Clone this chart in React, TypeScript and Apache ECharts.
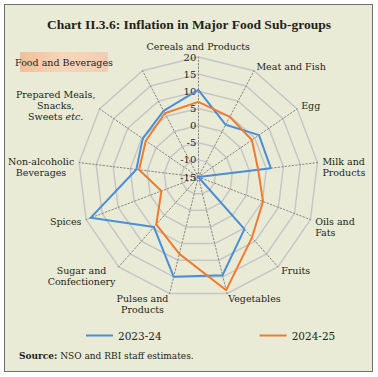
import React, { useEffect, useRef } from "react";
import * as echarts from "echarts";

// Clockwise from top
const categories = [
  "Cereals and Products",
  "Meat and Fish",
  "Egg",
  "Milk and Products",
  "Oils and Fats",
  "Fruits",
  "Vegetables",
  "Pulses and Products",
  "Sugar and Confectionery",
  "Spices",
  "Non-alcoholic Beverages",
  "Prepared Meals, Snacks, Sweets etc.",
  "Food and Beverages",
];
const displayNames = [
  "{c|Cereals and Products}",
  "{l|Meat and Fish}",
  "{l|Egg}",
  "\n{l|Milk and}\n{l|Products}",
  "\n{l|Oils and}\n{l|Fats}",
  "{l|Fruits}",
  "{l|Vegetables}",
  "\n{c|Pulses and}\n{c|Products}",
  "\n{c|Sugar and}\n{c|Confectionery}",
  "{c|Spices}",
  "\n{c|Non-alcoholic}\n{c|Beverages}",
  "{c|Prepared Meals,}\n{c|Snacks,}\n{c|Sweets }{ci|etc.}",
  "",
];
const series2324 = [10.4, 2.2, 6.5, 6.3, -15, 5.3, 14.5, 15.0, 4.5, 18.6, 3.2, 4.7, 6.8];
const series2425 = [6.9, 4.8, 4.0, 2.6, 5.2, 8.6, 19.0, 8.1, 3.5, -3.5, 2.4, 3.6, 6.0];
const seriesNames = ["2023-24", "2024-25"];
const axisMin = -15;
const axisMax = 20;

const FONT = "'DejaVu Serif', 'Liberation Serif', serif";
const TXT = "#231f20";

export default function App() {
  const ref = useRef<HTMLDivElement>(null);
  useEffect(() => {
    if (!ref.current) return;
    const chart = echarts.init(ref.current, null, { renderer: "svg" });
    // ECharts radar runs counter-clockwise; reorder to get clockwise layout
    const order = [0, ...categories.map((_, i) => i).slice(1).reverse()];
    const indicator = order.map((i) => ({
      name: categories[i],
      min: axisMin,
      max: axisMax,
      ...(i === 0
        ? {
            axisLabel: {
              show: true,
              fontFamily: FONT,
              fontSize: 10,
              color: TXT,
              margin: 2,
            },
          }
        : {}),
    }));
    const nameMap: Record<string, string> = {};
    categories.forEach((c, i) => (nameMap[c] = displayNames[i]));
    const richBase = { fontFamily: FONT, fontSize: 9.5, color: TXT, lineHeight: 11 };
    const option: any = {
      animation: false,
      title: [
        {
          text: "Chart II.3.6: Inflation in Major Food Sub-groups",
          left: "center",
          top: 12,
          textStyle: { fontFamily: "'Liberation Serif', serif", fontWeight: "bold", fontSize: 13.5, color: TXT },
        },
        {
          text: "{b|Source:} {n|NSO and RBI staff estimates.}",
          left: 14,
          top: 346,
          textStyle: {
            fontWeight: "normal",
            fontFamily: FONT,
            fontSize: 9,
            color: TXT,
            rich: {
              b: { fontFamily: FONT, fontWeight: "bold", fontSize: 9, color: TXT },
              n: { fontFamily: FONT, fontWeight: "normal", fontSize: 9, color: TXT },
            },
          },
        },
      ],
      legend: {
        data: seriesNames,
        left: 81,
        top: 325,
        itemGap: 98,
        itemWidth: 27,
        itemHeight: 2,
        icon: "rect",
        textStyle: { fontFamily: FONT, fontSize: 10.5, color: TXT },
      },
      radar: {
        center: [198.3, 177],
        radius: 120,
        startAngle: 90,
        shape: "polygon",
        splitNumber: 7,
        nameGap: 5,
        indicator,
        axisName: {
          fontFamily: FONT,
          fontSize: 9.5,
          color: TXT,
          lineHeight: 11,
          formatter: (name: string) => nameMap[name] ?? name,
          rich: {
            c: { ...richBase, align: "center" },
            l: { ...richBase, align: "left" },
            ci: { ...richBase, fontStyle: "italic", align: "center" },
          },
        },
        axisLabel: { show: false },
        axisTick: { show: false },
        axisLine: { lineStyle: { color: "#858585", type: [1.5, 2], width: 1 } },
        splitLine: { lineStyle: { color: "#c6c6c6", width: 1.5 } },
        splitArea: { show: false },
      },
      series: [
        {
          type: "radar",
          symbol: "none",
          data: [
            {
              name: seriesNames[0],
              value: order.map((i) => series2324[i]),
              lineStyle: { color: "#4a8fd6", width: 2 },
              itemStyle: { color: "#4a8fd6" },
            },
            {
              name: seriesNames[1],
              value: order.map((i) => series2425[i]),
              lineStyle: { color: "#ef7b2e", width: 2 },
              itemStyle: { color: "#ef7b2e" },
            },
          ],
        },
      ],
      graphic: [
        {
          type: "rect",
          shape: { x: 20, y: 52, width: 88, height: 20 },
          style: {
            fill: new echarts.graphic.LinearGradient(0, 0, 1, 0, [
              { offset: 0, color: "#f1bf98" },
              { offset: 0.5, color: "#f7d6bc" },
              { offset: 1, color: "#f4cdb0" },
            ]),
          },
        },
        {
          type: "text",
          x: 64,
          y: 62,
          style: {
            text: "Food and Beverages",
            fill: TXT,
            font: "9.5px 'DejaVu Serif', serif",
            textAlign: "center",
            textVerticalAlign: "middle",
          },
        },
        {
          type: "circle",
          shape: { cx: 198.3, cy: 177, r: 3.5 },
          style: { fill: "none", stroke: "#a0a0a0", lineWidth: 1 },
        },
      ],
    };
    chart.setOption(option);
    return () => chart.dispose();
  }, []);
  return (
    <div style={{ position: "fixed", left: 0, top: 0, width: 378, height: 377, background: "#ffffff" }}>
      <div
        style={{
          position: "absolute",
          left: 4,
          top: 4,
          width: 367,
          height: 366,
          border: "1.5px solid #6e6e6e",
          background: "#e9ebd7",
        }}
      />
      <div ref={ref} style={{ position: "absolute", left: 0, top: 0, width: 378, height: 377 }} />
    </div>
  );
}
